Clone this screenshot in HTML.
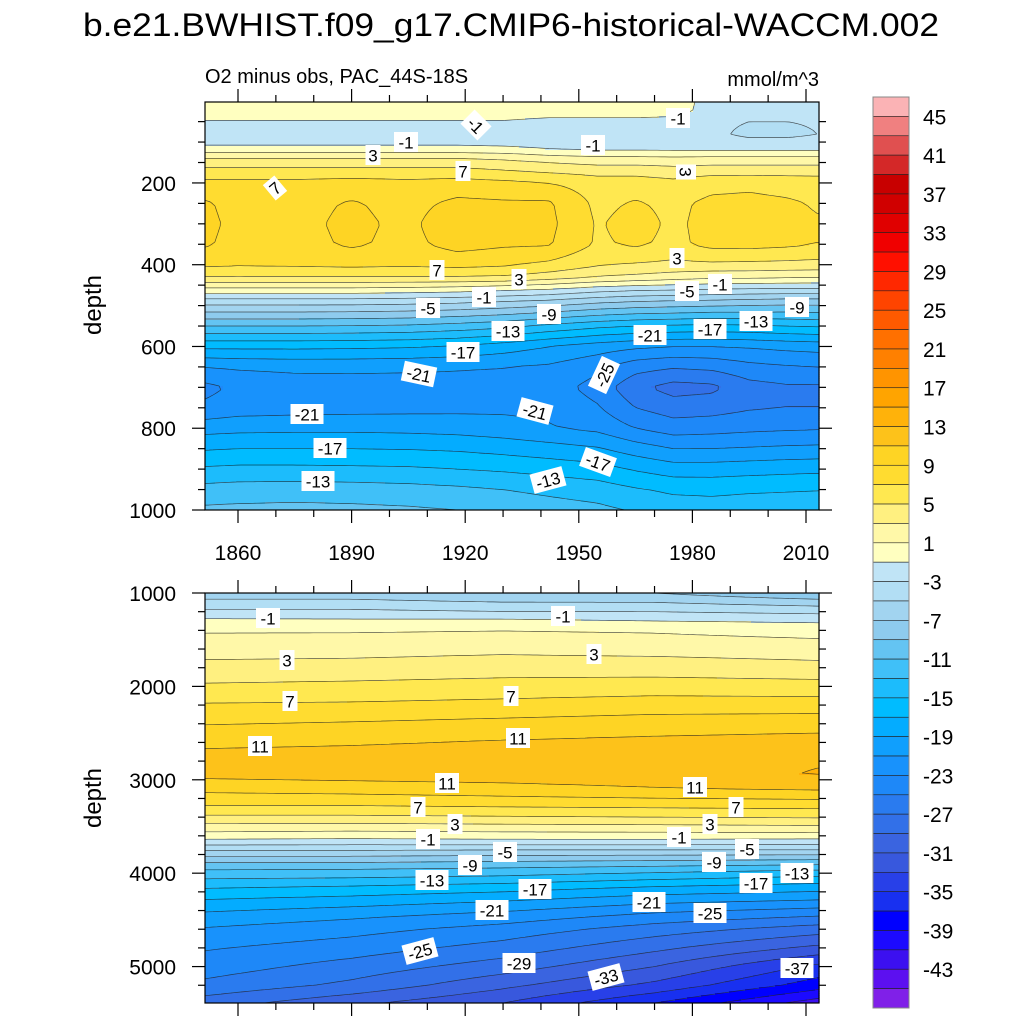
<!DOCTYPE html>
<html><head><meta charset="utf-8"><style>
body{margin:0;background:#fff;}
svg{display:block;font-family:"Liberation Sans",sans-serif;}
</style></head><body>
<svg id="chart" width="1024" height="1024" viewBox="0 0 1024 1024" xmlns="http://www.w3.org/2000/svg">
<rect width="1024" height="1024" fill="#fff"/>
<text x="511" y="36" font-size="32" text-anchor="middle" textLength="856" lengthAdjust="spacingAndGlyphs">b.e21.BWHIST.f09_g17.CMIP6-historical-WACCM.002</text>
<text x="205" y="83" font-size="20">O2 minus obs, PAC_44S-18S</text>
<text x="819" y="86" font-size="20" text-anchor="end">mmol/m^3</text>
<g id="top"></g>
<g id="bot"></g>
<g id="cbar"></g>
</svg>
<script>
const colors=["#fbb3b5","#f08080","#e05050","#d42828","#c80000","#d00000","#e00000","#f00000","#ff1000","#ff2800","#ff4400","#ff5a00","#ff7000","#ff8000","#ff9400","#ffa400","#ffb20a","#fdc21a","#fed424","#ffdc30","#ffe850","#fff080","#fff8a8","#ffffc0","#c0e4f6","#b2def4","#a2d4f0","#8ecbee","#64c4f2","#40c0f8","#1cbcfc","#00bcff","#04acff","#109ffd","#1892fc","#1e88f8","#2a7bef","#3270e8","#3a64e0","#3858dd","#2840e8","#1830f0","#0000ff","#1c0aff","#3c10f0","#5c10f0","#8020e8"];
const cbarLabels=[45,41,37,33,29,25,21,17,13,9,5,1,-3,-7,-11,-15,-19,-23,-27,-31,-35,-39,-43];

const topYears=[1851,1860,1875,1890,1905,1918,1930,1942,1955,1965,1975,1985,1995,2005,2013];
const topDepths=[2,25,50,80,100,118,135,150,175,200,250,300,350,400,430,460,490,520,550,600,650,700,750,800,850,900,950,1000];
const topValues=[
[0.5,0.5,0.5,0.5,0.5,0.5,0.5,0.5,0.5,0.5,0.3,-2,-2,-2,-2],
[0.5,0.5,0.5,0.5,0.5,0.5,0.5,0.3,0.3,0.3,0,-2,-2,-2,-2],
[-1.2,-1.2,-1.2,-1.2,-1.2,-1.2,-1.2,-1.8,-1.8,-1.8,-2,-2.5,-3,-3,-2.8],
[-2,-2,-2,-2,-2,-2,-2,-2,-2,-2,-2.2,-2.5,-3.5,-3.5,-3],
[-1.5,-1.5,-1.5,-1.5,-1.5,-1.5,-1.6,-1.8,-1.9,-1.9,-2,-2.2,-2.4,-2.4,-2.3],
[-0.3,-0.3,-0.3,-0.3,-0.3,-0.3,-0.5,-1,-1.2,-1.2,-1.3,-1.4,-1.4,-1.4,-1.4],
[2.5,2.5,2.5,2.5,2.5,2.5,2.2,1.4,1,1,0.9,1,1,1,1],
[4,4,4,4,4,4,3.6,3,2.5,2.5,2.3,2.5,2.5,2.5,2.5],
[6,6,6,6,6,6,5.5,5,4.5,4.5,4.2,4.5,4.5,4.5,4.5],
[7.5,7.5,7.5,7.8,7.5,7.8,7.5,7,6,6,5.5,6.3,6.5,6.2,6],
[9.3,8.3,8.3,9.2,8.3,9.5,9.3,9.3,6.5,7.2,6.5,7.5,7.6,7.3,6.8],
[9.5,8.5,8.4,9.5,8.5,10.5,9.5,9.5,6.8,7.8,6.6,7.7,7.8,7.5,7.2],
[9.3,8.3,8.3,9.3,8.4,9.8,9.3,9.2,6.7,7.3,6.5,7.6,7.7,7.4,7],
[7.4,7.2,7.3,7.5,7.3,7.6,7.3,6.5,5.2,4.8,4.5,4.6,4.5,4.4,4.3],
[5,5,5,5,5,5,4.8,4,3,2.5,2,1.5,1.5,1.3,1.2],
[0.5,0.5,0.5,0.5,0.3,0,-0.5,-1,-2,-2.5,-2.7,-3,-3.2,-3.3,-3.3],
[-4,-4,-4,-4,-4.2,-4.5,-5,-5.5,-6.5,-7,-7.3,-7.5,-7.8,-8,-8],
[-7.5,-7.5,-7.5,-7.6,-7.8,-8.2,-8.7,-9.5,-10.5,-11,-11.2,-11.5,-11.5,-11.5,-11.3],
[-11,-11,-11,-11.1,-11.3,-11.8,-12.4,-13.5,-14.5,-15,-15.3,-15.5,-15.3,-15,-14.8],
[-16.5,-16.5,-16.5,-16.6,-16.8,-17.2,-18,-19,-20,-20.6,-21,-21,-20.8,-20.4,-20.2],
[-21,-20.7,-20.5,-20.5,-20.6,-20.8,-21,-21.3,-22.5,-24.2,-24.8,-24.5,-23.6,-23.2,-23],
[-23.6,-22.6,-22.1,-22,-22,-21.8,-21.6,-22,-23.8,-26.5,-27.8,-27.5,-25.8,-25.3,-25.3],
[-22.6,-22,-21.8,-21.7,-21.6,-21.5,-21.4,-21.5,-22.8,-25,-26,-25.8,-25.2,-25,-25],
[-19.8,-19.6,-19.5,-19.5,-19.6,-19.8,-20.2,-20.8,-21.5,-23,-24,-23.8,-23.5,-23.3,-23.2],
[-17.2,-17,-17,-17,-17.1,-17.3,-17.7,-18.2,-18.8,-20,-21,-21,-20.8,-20.6,-20.5],
[-14.7,-14.5,-14.5,-14.6,-14.7,-15,-15.3,-15.7,-16.2,-17.2,-18,-18,-17.8,-17.6,-17.5],
[-12.3,-12.1,-12,-12.1,-12.3,-12.6,-13,-13.5,-14,-14.8,-15.4,-15.5,-15.3,-15.2,-15.1],
[-10.6,-10.5,-10.4,-10.5,-10.7,-11,-11.5,-12,-12.5,-13.2,-13.8,-14,-13.8,-13.6,-13.5]];

const botYears=[1851,1890,1930,1970,2013];
const botDepths=[1000,1100,1200,1300,1400,1550,1700,1850,2000,2200,2400,2600,2800,2950,3100,3250,3400,3550,3650,3750,3850,3950,4050,4150,4300,4450,4600,4800,5000,5200,5390];
const botValues=[
[-6,-6,-6.5,-7,-9],
[-4.5,-4.5,-5,-5,-6],
[-2.5,-2.5,-3,-3,-3.5],
[-0.5,-0.6,-0.5,-1,-1.3],
[0.8,0.8,1,0.8,0.3],
[1.8,2,2.2,1.8,1.5],
[2.9,3,3.3,3.2,2.8],
[4,4.2,4.5,4.5,4.2],
[5.3,5.5,5.8,6,5.8],
[7.2,7.3,7.6,8,8],
[8.9,9.2,9.6,10,10.2],
[10.6,10.8,11.2,11.5,11.8],
[11.8,12,12.2,12.5,12.9],
[11.5,11.8,12,12.3,13.1],
[9.5,9.8,10.2,10.8,11.2],
[7.5,7.5,7.8,8,8.2],
[4.6,4.6,4.8,5,5.2],
[1.2,1,1.2,1.3,1.5],
[-1.3,-1.5,-1.3,-1.3,-1.5],
[-4.8,-4.8,-5,-5,-5],
[-8,-8,-8.3,-8.5,-8.8],
[-10.7,-10.8,-11.2,-11.8,-12.5],
[-12.8,-13,-13.5,-14.5,-15.5],
[-14.8,-15.3,-16,-17.2,-18],
[-17.3,-18,-19,-20.5,-21.3],
[-19.5,-20.5,-21.7,-23.5,-24.8],
[-21.2,-22.3,-23.8,-26,-28],
[-22.8,-24,-25.8,-28.5,-31.5],
[-24,-25.8,-28,-31,-35.5],
[-25.5,-27.5,-30.5,-33.5,-38],
[-28,-30.5,-33,-37,-42]];

const topLabels=[[-1,476,125,45],[-1,678,118,0],[-1,406,142,0],[-1,593,145,0],[3,373,155,0],[7,463,171,0],[7,275,188,-40],[3,686,172,90],[7,437,270,0],[3,519,279,0],[3,677,258,0],[-1,484,297,0],[-5,428,308,0],[-5,687,291,0],[-1,720,284,0],[-9,549,314,0],[-9,797,307,0],[-13,508,331,0],[-13,756,321,0],[-17,710,329,0],[-21,650,335,0],[-17,463,352,0],[-21,419,374,12],[-25,604,375,-65],[-21,307,414,0],[-21,535,411,15],[-17,330,448,0],[-17,598,462,20],[-13,318,481,0],[-13,548,480,-15]];
const botLabels=[[-1,268,618,0],[-1,563,616,0],[3,287,660,0],[3,594,654,0],[7,290,701,0],[7,511,696,0],[11,260,746,0],[11,518,738,0],[11,447,783,0],[11,695,787,0],[7,418,807,0],[7,736,807,0],[3,455,824,0],[3,710,824,0],[-1,428,839,0],[-1,679,837,0],[-5,505,852,0],[-5,747,849,0],[-9,470,865,0],[-9,714,862,0],[-13,432,880,0],[-13,797,873,0],[-17,535,889,0],[-17,756,883,0],[-21,492,910,0],[-21,649,902,0],[-25,420,951,-15],[-25,710,913,0],[-29,519,963,0],[-33,606,977,-15],[-37,797,968,0]];

const NS="http://www.w3.org/2000/svg";
function mk(tag,attrs,parent){const e=document.createElementNS(NS,tag);for(const k in attrs)e.setAttribute(k,attrs[k]);parent.appendChild(e);return e;}
const X0=205,X1=819;
function xOf(yr){return 238+(yr-1860)*568/150;}
function yrOf(x){return 1860+(x-238)*150/568;}
function binIndex(v){let k=Math.floor((45-v)/2)+1;return Math.max(0,Math.min(46,k));}
function interp(arr,v){let i=0;while(i<arr.length-2&&v>arr[i+1])i++;let t=(v-arr[i])/(arr[i+1]-arr[i]);t=Math.max(0,Math.min(1,t));return [i,t];}
function sample(years,depths,vals,yr,d){const [i,ti]=interp(years,yr);const [j,tj]=interp(depths,d);
 const a=vals[j][i],b=vals[j][i+1],c=vals[j+1][i],e=vals[j+1][i+1];
 return (a*(1-ti)+b*ti)*(1-tj)+(c*(1-ti)+e*ti)*tj;}

function panel(g,years,depths,vals,Y0,Y1,dMin,dMax,labels,yTicks,yMinor,showX,yLabelY,name){
 const yOf=d=>Y0+(d-dMin)/(dMax-dMin)*(Y1-Y0);
 const dOf=y=>dMin+(y-Y0)/(Y1-Y0)*(dMax-dMin);
 const fill=mk('g',{},g);
 
 
 const st=2;
 for(let y=Y0;y<Y1;y+=st){
  const d=dOf(y+st/2);let runStart=X0,runK=-1;
  for(let x=X0;x<=X1;x+=st){
   const k=x<X1?binIndex(sample(years,depths,vals,yrOf(x+st/2),d)):-2;
   if(k!==runK){
    if(runK>=0){const r=mk('rect',{x:runStart,y:y,width:x-runStart+0.6,height:Math.min(st+0.6,Y1-y),fill:colors[runK]},fill);
     
     }
    runStart=x;runK=k;}
  }
 }
 const cs=4;const nx=Math.ceil((X1-X0)/cs),ny=Math.ceil((Y1-Y0)/cs);
 const grid=[];for(let j=0;j<=ny;j++){const row=[];const yy=Math.min(Y1,Y0+j*cs);for(let i=0;i<=nx;i++){const xx=Math.min(X1,X0+i*cs);row.push(sample(years,depths,vals,yrOf(xx),dOf(yy)));}grid.push(row);}
 const px=i=>Math.min(X1,X0+i*cs),py=j=>Math.min(Y1,Y0+j*cs);
 for(let L=-45;L<=45;L+=2){let dstr='';
  for(let j=0;j<ny;j++)for(let i=0;i<nx;i++){
   const v=[grid[j][i],grid[j][i+1],grid[j+1][i+1],grid[j+1][i]];
   const p=[[px(i),py(j)],[px(i+1),py(j)],[px(i+1),py(j+1)],[px(i),py(j+1)]];
   const pts=[];
   for(let e=0;e<4;e++){const a=v[e],b=v[(e+1)%4];if((a<L)!==(b<L)){const t=(L-a)/(b-a);const A=p[e],B=p[(e+1)%4];pts.push([A[0]+(B[0]-A[0])*t,A[1]+(B[1]-A[1])*t]);}}
   for(let q=0;q+1<pts.length;q+=2)dstr+='M'+pts[q][0].toFixed(1)+' '+pts[q][1].toFixed(1)+'L'+pts[q+1][0].toFixed(1)+' '+pts[q+1][1].toFixed(1);
  }
  if(dstr){const pa=mk('path',{d:dstr,fill:'none',stroke:'#222','stroke-width':0.7,'stroke-opacity':0.75},g);
   
   }
 }
 labels.forEach(l=>{const lg=mk('g',{transform:`translate(${l[1]},${l[2]}) rotate(${l[3]})`},g);
  
  
  const s=String(l[0]);const w=s.length*9+6;
  mk('rect',{x:-w/2,y:-10,width:w,height:20,fill:'#fff'},lg);
  const t=mk('text',{x:0,y:6.5,'font-size':17,'text-anchor':'middle'},lg);t.textContent=s;});
 const fr=mk('rect',{x:X0,y:Y0,width:X1-X0,height:Y1-Y0,fill:'none',stroke:'#000','stroke-width':1.2},g);
 
 
 const ax=mk('g',{stroke:'#000','stroke-width':1.2},g);
 
 
 for(let yr=1860;yr<=2010;yr+=10){const x=xOf(yr);const L=(yr-1860)%30===0?13:7;
  mk('line',{x1:x,x2:x,y1:Y0,y2:Y0-L},ax);mk('line',{x1:x,x2:x,y1:Y1,y2:Y1+L},ax);
  if(showX&&(yr-1860)%30===0){const t=mk('text',{x:x,y:Y1+50,'font-size':21,'text-anchor':'middle',stroke:'none'},g);t.textContent=yr;
   
   }}
 for(let d=Math.ceil(dMin/yMinor)*yMinor;d<=dMax;d+=yMinor){const y=yOf(d);const maj=d%yTicks===0;const L=maj?13:7;
  mk('line',{x1:X0,x2:X0-L,y1:y,y2:y},ax);mk('line',{x1:X1,x2:X1+L,y1:y,y2:y},ax);
  if(maj){const t=mk('text',{x:X0-29,y:y+8,'font-size':21,'text-anchor':'end',stroke:'none'},g);t.textContent=d;
   
   }}
 const yt=mk('text',{x:0,y:0,'font-size':24,'text-anchor':'middle',transform:`translate(101,${yLabelY}) rotate(-90)`},g);yt.textContent='depth';
 
 
}
panel(document.getElementById('top'),topYears,topDepths,topValues,102,510,2,1000,topLabels,200,50,true,305,'top-panel');
panel(document.getElementById('bot'),botYears,botDepths,botValues,593,1003,1000,5390,botLabels,1000,200,false,798,'bottom-panel');

const cb=document.getElementById('cbar');const CB0=97,CB1=1008,bh=(CB1-CB0)/colors.length;
colors.forEach((c,i)=>{const r=mk('rect',{x:873,y:CB0+i*bh,width:36,height:bh,fill:c,stroke:'#222','stroke-width':0.6},cb);
 
 });
mk('rect',{x:873,y:CB0,width:36,height:CB1-CB0,fill:'none',stroke:'#888','stroke-width':1},cb);
cbarLabels.forEach(v=>{const j=(45-v)/2;const y=CB0+(j+1)*bh;const t=mk('text',{x:923,y:y+8,'font-size':21},cb);t.textContent=v;
 
 });
</script>
</body></html>
